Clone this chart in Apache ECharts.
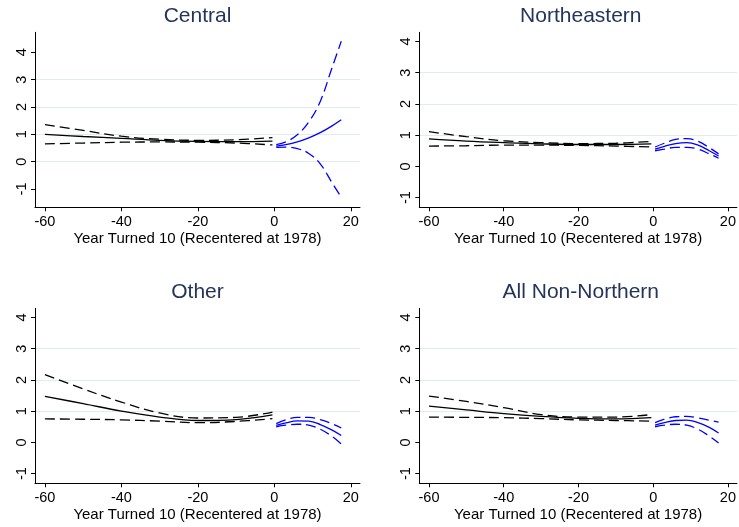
<!DOCTYPE html>
<html>
<head>
    <meta charset="utf-8" />
    <title></title>
    <script type="text/javascript" src="https://cdn.jsdelivr.net/npm/echarts@6/dist/echarts.min.js"></script>
    <style>
        html, body { margin: 0; padding: 0; background: #fff; }
        #main { width: 739px; height: 527px; }
    </style>
</head>
<body>
    <div id="main"></div>
    <script type="text/javascript">
        // sample positions (year turned 10, recentered at 1978)
        var xBefore = [-60, -50, -40, -30, -20, -10, -0.5];
        var xAfter = [0.5, 3, 6, 9, 12, 15, 17.5];
        var xTicks = [-60, -40, -20, 0, 20];
        var yTicks = [-1, 0, 1, 2, 3, 4];

        // Central
        var centralFitBefore = [1.00, 0.92, 0.85, 0.78, 0.74, 0.73, 0.75];
        var centralHiBefore = [1.35, 1.14, 0.93, 0.82, 0.78, 0.80, 0.88];
        var centralLoBefore = [0.65, 0.68, 0.71, 0.72, 0.71, 0.68, 0.61];
        var centralFitAfter = [0.57, 0.62, 0.72, 0.87, 1.06, 1.30, 1.53];
        var centralHiAfter = [0.62, 0.72, 0.98, 1.45, 2.20, 3.40, 4.40];
        var centralLoAfter = [0.52, 0.53, 0.48, 0.30, -0.08, -0.75, -1.30];

        // Northeastern
        var neFitBefore = [0.88, 0.81, 0.76, 0.72, 0.70, 0.70, 0.72];
        var neHiBefore = [1.11, 0.95, 0.82, 0.76, 0.73, 0.74, 0.80];
        var neLoBefore = [0.65, 0.66, 0.68, 0.68, 0.67, 0.65, 0.62];
        var neFitAfter = [0.55, 0.64, 0.73, 0.76, 0.68, 0.50, 0.33];
        var neHiAfter = [0.62, 0.74, 0.86, 0.89, 0.80, 0.60, 0.40];
        var neLoAfter = [0.50, 0.55, 0.61, 0.61, 0.55, 0.40, 0.26];

        // Other
        var otherFitBefore = [1.47, 1.24, 1.00, 0.81, 0.70, 0.73, 0.88];
        var otherHiBefore = [2.17, 1.71, 1.29, 0.94, 0.78, 0.80, 0.97];
        var otherLoBefore = [0.75, 0.74, 0.72, 0.68, 0.63, 0.67, 0.76];
        var otherFitAfter = [0.54, 0.62, 0.69, 0.68, 0.57, 0.40, 0.22];
        var otherHiAfter = [0.60, 0.72, 0.80, 0.80, 0.73, 0.60, 0.46];
        var otherLoAfter = [0.50, 0.55, 0.58, 0.55, 0.42, 0.20, -0.05];

        // All Non-Northern
        var nnFitBefore = [1.16, 1.04, 0.92, 0.83, 0.77, 0.75, 0.79];
        var nnHiBefore = [1.48, 1.31, 1.11, 0.89, 0.81, 0.81, 0.89];
        var nnLoBefore = [0.81, 0.80, 0.79, 0.76, 0.72, 0.70, 0.68];
        var nnFitAfter = [0.55, 0.63, 0.70, 0.71, 0.63, 0.48, 0.30];
        var nnHiAfter = [0.63, 0.74, 0.82, 0.83, 0.78, 0.71, 0.65];
        var nnLoAfter = [0.50, 0.55, 0.58, 0.55, 0.42, 0.20, -0.02];

        var font = 'Liberation Sans, Arial, sans-serif';
        var gridColor = '#e2ebee';
        var none = 'rgba(0,0,0,0)';

        var panels = [
            { title: 'Central', left: 35, top: 32.3, width: 325, ymin: -1.67, ymax: 4.73,
              lines: [gridColor, gridColor, gridColor, gridColor, gridColor, gridColor],
              before: [centralFitBefore, centralHiBefore, centralLoBefore],
              after: [centralFitAfter, centralHiAfter, centralLoAfter] },
            { title: 'Northeastern', left: 419.3, top: 32.3, width: 323, ymin: -1.31, ymax: 4.29,
              lines: [none, gridColor, gridColor, gridColor, gridColor, none],
              before: [neFitBefore, neHiBefore, neLoBefore],
              after: [neFitAfter, neHiAfter, neLoAfter] },
            { title: 'Other', left: 35, top: 308.3, width: 325, ymin: -1.31, ymax: 4.29,
              lines: [none, gridColor, gridColor, gridColor, gridColor, none],
              before: [otherFitBefore, otherHiBefore, otherLoBefore],
              after: [otherFitAfter, otherHiAfter, otherLoAfter] },
            { title: 'All Non-Northern', left: 419.3, top: 308.3, width: 323, ymin: -1.31, ymax: 4.29,
              lines: [none, gridColor, gridColor, gridColor, gridColor, none],
              before: [nnFitBefore, nnHiBefore, nnLoBefore],
              after: [nnFitAfter, nnHiAfter, nnLoAfter] }
        ];

        function pairs(xs, ys) {
            return xs.map(function (x, i) { return [x, ys[i]]; });
        }

        function line(xs, ys, idx, color, dashed) {
            return {
                type: 'line',
                xAxisIndex: idx,
                yAxisIndex: idx,
                data: pairs(xs, ys),
                smooth: 0.4,
                symbol: 'none',
                silent: true,
                lineStyle: { color: color, width: 1.3, type: dashed ? [10, 5] : 'solid' }
            };
        }

        var titles = [], grids = [], xAxes = [], yAxes = [], series = [];
        panels.forEach(function (p, i) {
            grids.push({ left: p.left, top: p.top, width: p.width, height: 175 });
            titles.push({
                text: p.title,
                left: p.left + p.width / 2,
                top: p.top - 27,
                textAlign: 'center',
                padding: 0,
                textStyle: { fontFamily: font, fontSize: 21, fontWeight: 'normal', color: '#24345a' }
            });
            xAxes.push({
                gridIndex: i,
                type: 'value',
                min: -62.6,
                max: 22.4,
                name: 'Year Turned 10 (Recentered at 1978)',
                nameLocation: 'middle',
                nameGap: 24,
                nameTextStyle: { fontFamily: font, fontSize: 15, color: '#000' },
                axisLine: { onZero: false, lineStyle: { color: '#000', width: 1 } },
                axisTick: { customValues: xTicks, length: 4, lineStyle: { color: '#000' } },
                axisLabel: { customValues: xTicks, margin: 7, fontFamily: font, fontSize: 14.5, color: '#000' },
                splitLine: { show: false }
            });
            yAxes.push({
                gridIndex: i,
                type: 'value',
                min: p.ymin,
                max: p.ymax,
                splitNumber: 5,
                axisLine: { show: true, onZero: false, lineStyle: { color: '#000', width: 1 } },
                axisTick: { show: true, customValues: yTicks, length: 4, lineStyle: { color: '#000' } },
                axisLabel: { customValues: yTicks, rotate: 90, margin: 6, fontFamily: font, fontSize: 14.5, color: '#000' },
                splitLine: { show: true, showMinLine: false, showMaxLine: false, lineStyle: { color: p.lines, width: 1 } }
            });
            series.push(line(xBefore, p.before[0], i, '#000', false));
            series.push(line(xBefore, p.before[1], i, '#000', true));
            series.push(line(xBefore, p.before[2], i, '#000', true));
            series.push(line(xAfter, p.after[0], i, '#0000ff', false));
            series.push(line(xAfter, p.after[1], i, '#0000ff', true));
            series.push(line(xAfter, p.after[2], i, '#0000ff', true));
        });

        var myChart = echarts.init(document.getElementById('main'), null, { renderer: 'canvas' });
        var option = {
            backgroundColor: '#fff',
            animation: false,
            title: titles,
            grid: grids,
            xAxis: xAxes,
            yAxis: yAxes,
            series: series
        };
        option && myChart.setOption(option);
    </script>
</body>
</html>
